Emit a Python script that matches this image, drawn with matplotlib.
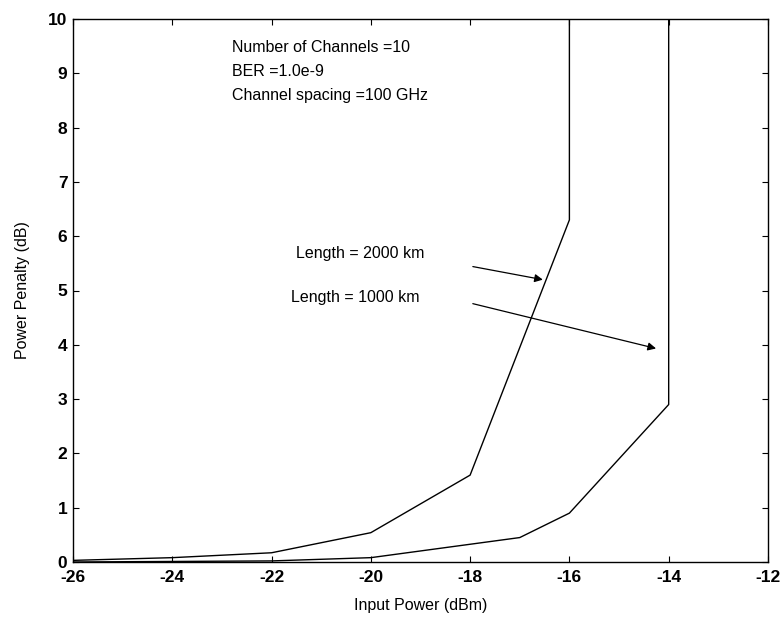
import matplotlib
matplotlib.use("Agg")
import matplotlib.pyplot as plt

plt.rcParams['font.family'] = ['Liberation Sans', 'DejaVu Sans']
plt.rcParams['axes.unicode_minus'] = False

# data
x_2000 = [-26, -24, -22, -20, -18, -16, -16]
y_2000 = [0.03, 0.08, 0.17, 0.54, 1.6, 6.3, 10]
x_1000 = [-26, -22, -20, -17, -16, -14, -14]
y_1000 = [0.0, 0.02, 0.08, 0.45, 0.9, 2.9, 10]

xticks = [-26, -24, -22, -20, -18, -16, -14, -12]
yticks = list(range(0, 11))

info = ["Number of Channels =10", "BER =1.0e-9", "Channel spacing =100 GHz"]

fig = plt.figure(figsize=(7.83, 6.25), dpi=100)
ax = fig.add_axes([0.0932, 0.1008, 0.8876, 0.8688])

ax.plot(x_2000, y_2000, color='black', lw=1.0)
ax.plot(x_1000, y_1000, color='black', lw=1.0)

ax.set_xlim(-26, -12)
ax.set_ylim(0, 10)
ax.set_xticks(xticks)
ax.set_yticks(yticks)
ax.tick_params(direction='in', top=True, right=True, length=4, width=0.8,
               labelsize=12.5)
ax.tick_params(axis='x', pad=6)
ax.tick_params(axis='y', pad=4)
for lab in ax.get_xticklabels() + ax.get_yticklabels():
    lab.set_fontweight('bold')
for s in ax.spines.values():
    s.set_linewidth(1.0)

ax.set_xlabel('Input Power (dBm)', fontsize=11.5, labelpad=9)
ax.set_ylabel('Power Penalty (dB)', fontsize=11.5, labelpad=13)

for i, t in enumerate(info):
    ax.text(-22.8, 9.48 - 0.44 * i, t, fontsize=11.5, va='center', ha='left')

ax.text(-21.5, 5.69, 'Length = 2000 km', fontsize=11.5, va='center', ha='left')
ax.text(-21.6, 4.88, 'Length = 1000 km', fontsize=11.5, va='center', ha='left')

arrow = dict(arrowstyle='-|>', color='black', lw=0.9, mutation_scale=12)
ax.annotate('', xy=(-16.48, 5.19), xytext=(-18.0, 5.45), arrowprops=arrow)
ax.annotate('', xy=(-14.2, 3.92), xytext=(-18.0, 4.77), arrowprops=arrow)

fig.savefig('out.png', dpi=100)
